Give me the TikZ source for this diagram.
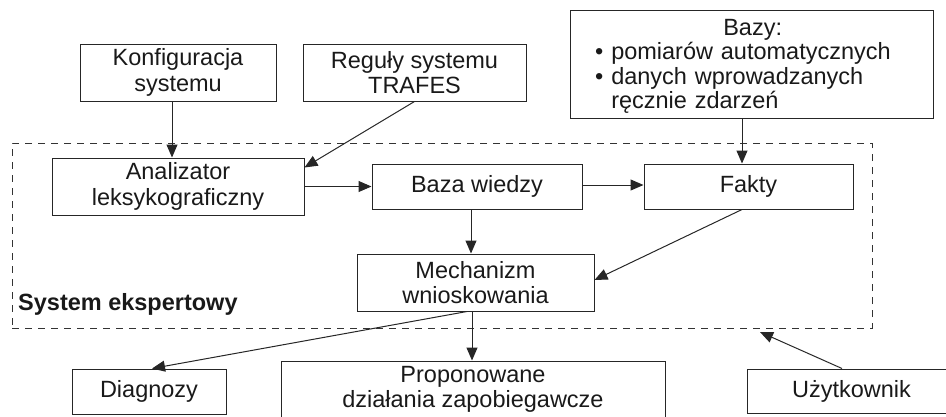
\documentclass[tikz,border=0pt]{standalone}
\usepackage{fontspec}
\setmainfont{Liberation Sans}
\usetikzlibrary{arrows.meta}
\begin{document}
\begin{tikzpicture}[x=1pt,y=-1pt,
  box/.style={draw=black!85, line width=1pt, align=center, inner sep=0pt,
    text=black!90, font=\fontsize{23.5}{25.5}\selectfont},
  conn/.style={draw=black!85, line width=1pt, -{Triangle[length=13pt,width=11pt]}},
  sysframe/.style={draw=black!80, line width=1pt, dash pattern=on 7pt off 6pt,
    inner sep=0pt}
]
\useasboundingbox (0,0) rectangle (946,416);
\clip (0,0) rectangle (946,416);

% expert system boundary
\node[sysframe, minimum width=860pt, minimum height=185pt] (sys) at (442,235.5) {};
\node[anchor=base west, inner sep=0pt, text=black!90,
  font=\bfseries\fontsize{23.5}{25.5}\selectfont] (syslabel) at (18,310) {System ekspertowy};

% input boxes
\node[box, minimum width=196pt, minimum height=57pt] (konf) at (178,72.5) {Konfiguracja\\systemu};
\node[box, minimum width=223pt, minimum height=57pt] (reg) at (414.5,72.5) {Reguły systemu\\TRAFES};
\node[box, minimum width=363pt, minimum height=108pt] (bazy) at (751.5,64) {};
\node[anchor=north west, inner sep=0pt, text width=315pt, align=left, text=black!90,
  font=\fontsize{23.5}{24.5}\selectfont] (bazytxt) at (595,19)
  {\makebox[\linewidth]{Bazy:}\\
   • pomiarów automatycznych\\
   • danych wprowadzanych\\
   \hphantom{• }ręcznie zdarzeń};

% inside the expert system
\node[box, minimum width=252pt, minimum height=57pt] (anal) at (178,186.5) {Analizator\\leksykograficzny};
\node[box, minimum width=210pt, minimum height=45pt] (baza) at (477,186.5) {Baza wiedzy};
\node[box, minimum width=209pt, minimum height=45pt] (fakty) at (748.5,186.5) {Fakty};
\node[box, minimum width=237pt, minimum height=57pt] (mech) at (475.5,282.5) {Mechanizm\\wnioskowania};

% outputs and user
\node[box, minimum width=154pt, minimum height=45pt] (diag) at (149,391.5) {Diagnozy};
\node[box, minimum width=384pt, minimum height=57pt] (prop) at (473,389.5) {Proponowane\\działania zapobiegawcze};
\node[box, minimum width=209pt, minimum height=44pt] (user) at (851.5,391) {Użytkownik};
\coordinate (usertip) at (760,332);

% connectors
\draw[conn] (konf.south -| 172,0) -- (anal.north -| 172,0);
\draw[conn] (reg.south) -- ([yshift=-10pt]anal.north east);
\draw[conn] (anal.east) -- (baza.west);
\draw[conn] ([yshift=1.5pt]baza.east) -- ([yshift=1.5pt]fakty.west);
\draw[conn] (bazy.south -| 742,0) -- (fakty.north -| 742,0);
\draw[conn] (baza.south -| 471,0) -- (mech.north -| 471,0);
\draw[conn] (fakty.south -| 742,0) -- ([yshift=2.5pt]mech.east);
\draw[conn] (mech.south -| 467,0) -- (diag.north -| 152,0);
\draw[conn] (mech.south -| 472,0) -- (prop.north -| 472,0);
\draw[conn] (user.north -| 842,0) -- (usertip);
\end{tikzpicture}
\end{document}
